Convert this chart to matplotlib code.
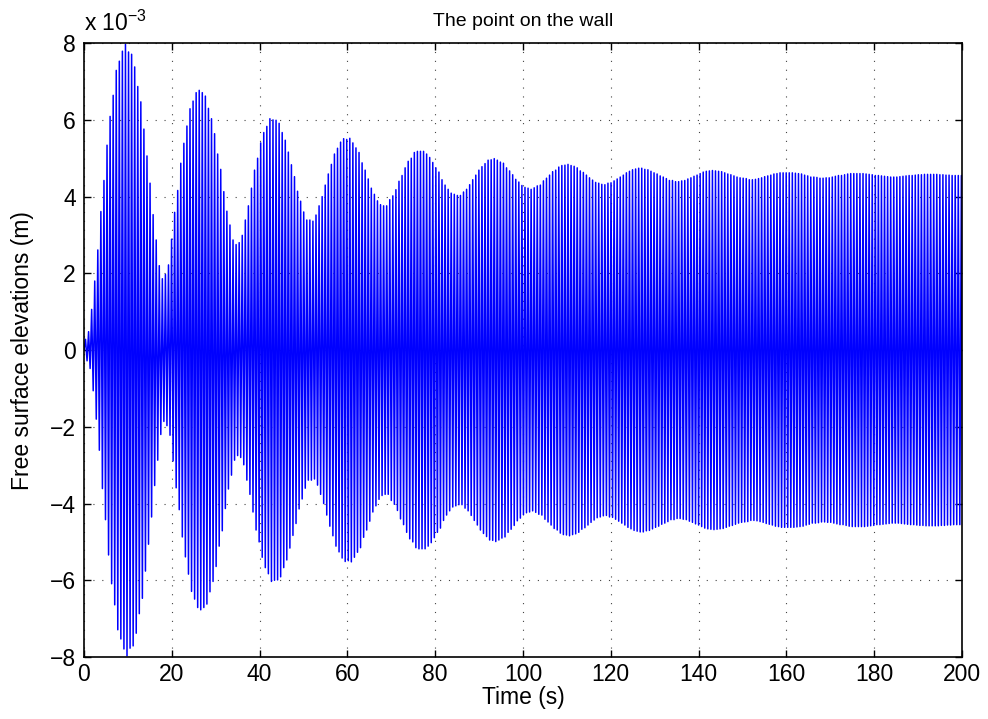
#!/usr/bin/env python3

# Free surface elevation at the point on the wall, MATLAB style.

import matplotlib
matplotlib.use('Agg')
import matplotlib.pyplot
import numpy

OUT_PATH = 'out.png'

FONT_FAMILY = ['Liberation Sans', 'DejaVu Sans']
FONT_SIZE = 16.5

# Time of the first crest and the wave period (s).
FIRST_CREST = 0.35
PERIOD = 0.70

# Crest height of each wave cycle, in units of 1e-3 m (troughs mirror them).
AMP_0_40 = [
    0.28, 0.48, 1.06,
    1.80, 2.61, 3.61, 4.42, 5.34, 6.09, 6.64, 7.29, 7.53, 7.79,
    7.97, 7.77, 7.71, 7.38, 6.87, 6.47, 5.76, 5.06, 4.35, 3.53,
    2.87, 2.20, 1.86, 1.97, 2.22, 2.89, 3.59, 4.16, 4.87, 5.39,
    5.84, 6.29, 6.49, 6.71, 6.77, 6.71, 6.62, 6.30, 6.03, 5.64,
    5.11, 4.71, 4.13, 3.62, 3.26, 2.87, 2.75, 2.80, 2.99, 3.39,
    3.76, 4.22, 4.69, 5.00, 5.40,
]
AMP_40_82 = [
    5.67, 5.83, 6.03, 6.00, 5.99, 5.91, 5.67, 5.47, 5.16, 4.83,
    4.52, 4.14, 3.88, 3.60, 3.39, 3.39, 3.36, 3.52, 3.76, 4.00,
    4.30, 4.59, 4.84, 5.11, 5.26, 5.42, 5.51, 5.49, 5.52, 5.40,
    5.27, 5.15, 4.88, 4.69, 4.46, 4.22, 4.06, 3.89, 3.79, 3.76,
    3.76, 3.92, 4.02, 4.18, 4.40, 4.55, 4.75, 4.92, 5.00, 5.15,
    5.18, 5.18, 5.18, 5.11, 5.02, 4.89, 4.75, 4.64, 4.44, 4.30,
]
AMP_82_123 = [
    4.19, 4.09, 4.06, 4.03, 4.03, 4.12, 4.19, 4.31, 4.44, 4.56,
    4.69, 4.78, 4.86, 4.95, 4.96, 4.99, 4.95, 4.90, 4.87, 4.75,
    4.67, 4.57, 4.45, 4.38, 4.29, 4.24, 4.22, 4.19, 4.23, 4.28,
    4.30, 4.41, 4.48, 4.56, 4.65, 4.69, 4.77, 4.81, 4.82, 4.84,
    4.81, 4.79, 4.75, 4.67, 4.63, 4.56, 4.49, 4.43, 4.37, 4.35,
    4.32, 4.31, 4.35, 4.36, 4.41, 4.46, 4.51, 4.56,
]
AMP_123_165 = [
    4.62, 4.66, 4.70, 4.72, 4.74, 4.74, 4.71, 4.70, 4.66, 4.62,
    4.59, 4.54, 4.51, 4.47, 4.42, 4.42, 4.39, 4.39, 4.41, 4.42,
    4.46, 4.49, 4.53, 4.56, 4.60, 4.64, 4.66, 4.67, 4.68, 4.67,
    4.66, 4.65, 4.62, 4.59, 4.57, 4.54, 4.51, 4.49, 4.48, 4.47,
    4.44, 4.44, 4.45, 4.47, 4.49, 4.52, 4.54, 4.56, 4.59, 4.60,
    4.62, 4.62, 4.62, 4.62, 4.62, 4.61, 4.60, 4.59, 4.56,
]
AMP_165_200 = [
    4.54, 4.51, 4.51, 4.50, 4.48, 4.48, 4.49, 4.49, 4.51, 4.53,
    4.55, 4.55, 4.57, 4.59, 4.60, 4.60, 4.60, 4.60, 4.60, 4.59,
    4.58, 4.57, 4.55, 4.55, 4.54, 4.53, 4.52, 4.51, 4.51, 4.51,
    4.52, 4.53, 4.54, 4.55, 4.55, 4.56, 4.57, 4.57, 4.58, 4.58,
    4.58, 4.58, 4.58, 4.57, 4.57, 4.56, 4.56, 4.55, 4.55, 4.55,
    4.55,
]

X_TICKS = list(range(0, 201, 20))
Y_TICKS = list(range(-8, 9, 2))

TITLE = 'The point on the wall'
X_LABEL = 'Time (s)'
Y_LABEL = 'Free surface elevations (m)'

def buildSignal():
    amps = numpy.array(AMP_0_40 + AMP_40_82 + AMP_82_123 + AMP_123_165 + AMP_165_200)
    crestTimes = FIRST_CREST + PERIOD * numpy.arange(len(amps))
    troughTimes = crestTimes + PERIOD / 2

    times = numpy.empty(2 * len(amps) + 1)
    values = numpy.empty(2 * len(amps) + 1)
    times[0] = 0.0
    values[0] = 0.0
    times[1::2] = crestTimes
    times[2::2] = troughTimes
    values[1::2] = amps
    values[2::2] = -amps
    return times, values

def main():
    matplotlib.pyplot.rcParams['font.family'] = FONT_FAMILY
    matplotlib.pyplot.rcParams['font.size'] = FONT_SIZE

    times, values = buildSignal()

    figure = matplotlib.pyplot.figure(figsize = (9.88, 7.19), dpi = 100)
    axis = figure.add_axes([0.085, 0.0862, 0.8887, 0.8538])

    axis.plot(times, values, color = (0, 0, 1), linewidth = 1.1)

    axis.set_xlim(0, 200)
    axis.set_ylim(-8, 8)
    axis.set_xticks(X_TICKS)
    axis.set_yticks(Y_TICKS)

    axis.grid(True, color = '#444444', linestyle = (0, (1, 7)), linewidth = 0.8)
    axis.tick_params(direction = 'in', length = 5, width = 1, top = True, right = True,
        labelsize = FONT_SIZE)
    axis.tick_params(axis = 'x', pad = 4)
    axis.tick_params(axis = 'y', pad = 6)
    for spine in axis.spines.values():
        spine.set_linewidth(1.2)

    axis.set_title(TITLE, fontsize = 14, pad = 12)
    axis.set_xlabel(X_LABEL, fontsize = FONT_SIZE, labelpad = 0)
    axis.set_ylabel(Y_LABEL, fontsize = FONT_SIZE, labelpad = 11)

    # MATLAB puts the exponent above the top left corner.
    axis.text(0.0, 1.012, r'x 10$^{\mathregular{-3}}$', transform = axis.transAxes,
        fontsize = FONT_SIZE, ha = 'left', va = 'bottom')

    figure.savefig(OUT_PATH, dpi = 100)

if (__name__ == '__main__'):
    main()
